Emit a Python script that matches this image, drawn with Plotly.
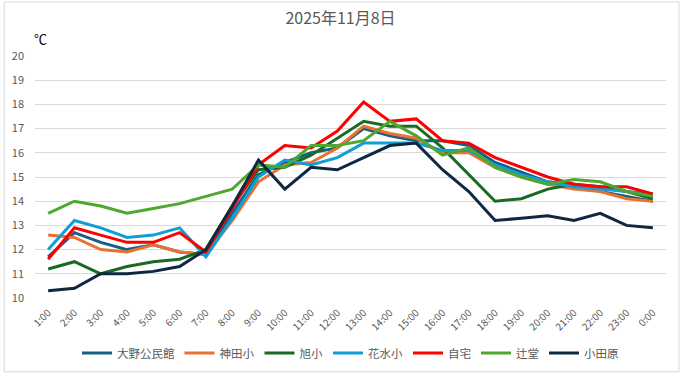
import plotly.graph_objects as go

hours = ["1:00", "2:00", "3:00", "4:00", "5:00", "6:00", "7:00", "8:00", "9:00", "10:00",
         "11:00", "12:00", "13:00", "14:00", "15:00", "16:00", "17:00", "18:00", "19:00",
         "20:00", "21:00", "22:00", "23:00", "0:00"]

oono = [11.7, 12.7, 12.3, 12.0, 12.2, 11.9, 11.8, 13.5, 15.1, 15.6, 16.0, 16.2, 17.0, 16.7,
        16.5, 16.5, 16.3, 15.6, 15.2, 14.8, 14.7, 14.4, 14.2, 14.0]
kanda = [12.6, 12.5, 12.0, 11.9, 12.2, 11.9, 11.8, 13.2, 14.8, 15.5, 15.6, 16.2, 17.1, 16.8,
         16.6, 16.0, 16.0, 15.4, 15.0, 14.7, 14.5, 14.4, 14.1, 14.0]
asahi = [11.2, 11.5, 11.0, 11.3, 11.5, 11.6, 12.0, 13.8, 15.3, 15.4, 15.9, 16.6, 17.3, 17.1,
         17.1, 16.2, 15.1, 14.0, 14.1, 14.5, 14.7, 14.6, 14.4, 14.1]
hanamizu = [12.0, 13.2, 12.9, 12.5, 12.6, 12.9, 11.7, 13.3, 15.0, 15.7, 15.5, 15.8, 16.4, 16.4,
            16.4, 16.1, 16.1, 15.5, 15.1, 14.8, 14.6, 14.5, 14.4, 14.3]
jitaku = [11.6, 12.9, 12.6, 12.3, 12.3, 12.7, 11.9, 13.7, 15.5, 16.3, 16.2, 16.9, 18.1, 17.3,
          17.4, 16.5, 16.4, 15.8, 15.4, 15.0, 14.7, 14.6, 14.6, 14.3]
tsujido = [13.5, 14.0, 13.8, 13.5, 13.7, 13.9, 14.2, 14.5, 15.5, 15.4, 16.3, 16.3, 16.5, 17.3,
           16.7, 15.9, 16.2, 15.4, 15.0, 14.7, 14.9, 14.8, 14.4, 14.2]
odawara = [10.3, 10.4, 11.0, 11.0, 11.1, 11.3, 12.0, 13.8, 15.7, 14.5, 15.4, 15.3, 15.8, 16.3,
           16.4, 15.3, 14.4, 13.2, 13.3, 13.4, 13.2, 13.5, 13.0, 12.9]

series = [
    ("大野公民館", oono, "#156082"),
    ("神田小", kanda, "#E97132"),
    ("旭小", asahi, "#196B24"),
    ("花水小", hanamizu, "#0F9ED5"),
    ("自宅", jitaku, "#FF0000"),
    ("辻堂", tsujido, "#4EA72E"),
    ("小田原", odawara, "#0E2841"),
]

FONT = "Noto Sans CJK JP"
W, H = 681, 379
ML, MR, MT, MB = 32, 15, 56, 77
PW, PH = W - ML - MR, H - MT - MB

fig = go.Figure()
for name, vals, col in series:
    fig.add_trace(go.Scatter(x=hours, y=vals, name=name, mode="lines",
                             line=dict(color=col, width=3)))

fig.update_layout(
    width=W, height=H,
    margin=dict(l=ML, r=MR, t=MT, b=MB),
    paper_bgcolor="white", plot_bgcolor="white",
    font=dict(family=FONT, color="#595959", size=11),
    title=dict(text="2025年11月8日", x=0.5, xanchor="center", y=1 - 18 / H, yanchor="middle",
               font=dict(family=FONT, size=16, color="#595959")),
    showlegend=True,
    legend=dict(orientation="h", x=0.5, xanchor="center", y=(H - MB - 358) / PH,
                yanchor="middle", font=dict(family=FONT, size=11.5, color="#595959"),
                itemwidth=30, traceorder="normal", bgcolor="rgba(0,0,0,0)"),
    xaxis=dict(type="category", range=[-0.5, 23.5], tickangle=-45, showgrid=False,
               showline=False, zeroline=False, ticks="", ticklabelstandoff=6,
               tickfont=dict(size=10, color="#595959")),
    yaxis=dict(range=[10, 20], dtick=1, showgrid=True, gridcolor="#d9d9d9", gridwidth=1,
               zeroline=False, showline=False, ticks="", ticklabelstandoff=10,
               tickfont=dict(size=11, color="#595959")),
    annotations=[dict(text="℃", xref="paper", yref="paper", x=(38 - ML) / PW,
                      y=(H - MB - 38) / PH, xanchor="center", yanchor="middle",
                      showarrow=False, font=dict(family=FONT, size=13, color="#000000"))],
    shapes=[dict(type="rect", xref="paper", yref="paper",
                 x0=(1 - ML) / PW, x1=(679 - ML) / PW,
                 y0=(H - MB - 377) / PH, y1=(H - MB - 1) / PH,
                 line=dict(color="#d9d9d9", width=1), fillcolor="rgba(0,0,0,0)", layer="below")],
)

fig.write_html("out.html", config={"displayModeBar": False},
               post_script="document.body.style.margin='0';document.body.style.overflow='hidden';")
